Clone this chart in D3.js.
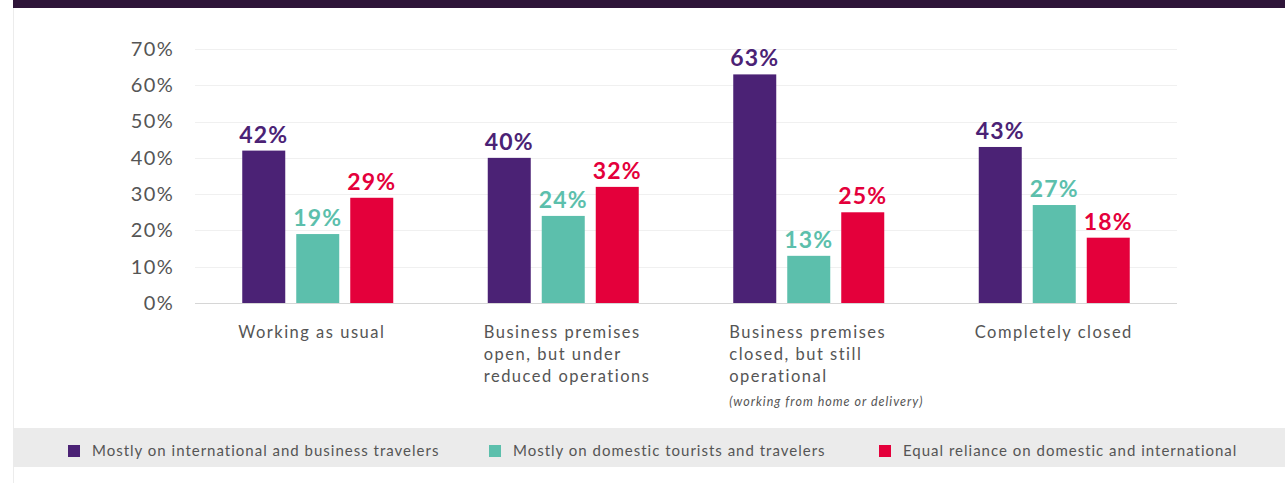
<!DOCTYPE html>
<html><head><meta charset="utf-8">
<script src="https://cdn.jsdelivr.net/npm/d3@7"></script>
<style>
html,body{margin:0;padding:0;background:#fff;}
svg{display:block;}
</style></head>
<body>
<svg id="chart" width="1285" height="483"></svg>
<script>
const categories = [
  ["Working as usual"],
  ["Business premises", "open, but under", "reduced operations"],
  ["Business premises", "closed, but still", "operational"],
  ["Completely closed"]
];
const categoryNotes = ["", "", "(working from home or delivery)", ""];
const seriesNames = [
  "Mostly on international and business travelers",
  "Mostly on domestic tourists and travelers",
  "Equal reliance on domestic and international"
];
const seriesColors = ["#4b2275", "#5cbfac", "#e4003b"];
const internationalValues = [42, 40, 63, 43];
const domesticValues = [19, 24, 13, 27];
const equalValues = [29, 32, 25, 18];
const yTicks = [0, 10, 20, 30, 40, 50, 60, 70];

const series = [internationalValues, domesticValues, equalValues];
const font = "Lato, 'Open Sans', sans-serif";
const svg = d3.select("#chart");

// frame
svg.append("rect").attr("x", 13).attr("y", 0).attr("width", 1272).attr("height", 8).attr("fill", "#2e1539");
svg.append("line").attr("x1", 13.5).attr("x2", 13.5).attr("y1", 8).attr("y2", 483).attr("stroke", "#ececec");

const x0 = d3.scaleBand().domain(d3.range(categories.length)).range([195, 1177]).paddingInner(0).paddingOuter(0);
const barW = 43, barGap = 11;
const groupW = barW * 3 + barGap * 2;
const x1 = d3.scaleBand().domain(d3.range(3)).range([0, groupW]).paddingInner(barGap / (barW + barGap));
const y = d3.scaleLinear().domain([0, 70]).range([303, 49]);

// gridlines
svg.append("g").selectAll("line").data(yTicks.filter(d => d > 0)).join("line")
  .attr("x1", 195).attr("x2", 1177)
  .attr("y1", d => Math.round(y(d)) + 0.5).attr("y2", d => Math.round(y(d)) + 0.5)
  .attr("stroke", "#f0f0f0").attr("stroke-width", 1);

// y axis labels
const yAxis = d3.axisLeft(y).tickValues(yTicks).tickFormat(d => d + "%").tickSize(0).tickPadding(0);
const ya = svg.append("g").attr("transform", "translate(174,0)").call(yAxis);
ya.select(".domain").remove();
ya.selectAll("text").attr("font-family", font).attr("font-size", 20).attr("letter-spacing", 1.3).attr("fill", "#555");

// bars
const groups = svg.append("g").selectAll("g").data(categories.map((c, i) => i)).join("g")
  .attr("transform", i => `translate(${x0(i) + (x0.bandwidth() - groupW) / 2},0)`);

groups.selectAll("rect").data(i => series.map((s, k) => ({k, v: s[i]}))).join("rect")
  .attr("x", d => x1(d.k)).attr("width", x1.bandwidth())
  .attr("y", d => y(d.v)).attr("height", d => y(0) - y(d.v))
  .attr("fill", d => seriesColors[d.k]);

groups.selectAll("text.val").data(i => series.map((s, k) => ({k, v: s[i]}))).join("text")
  .attr("class", "val")
  .attr("x", d => x1(d.k) + x1.bandwidth() / 2).attr("y", d => y(d.v) - 8)
  .attr("text-anchor", "middle").attr("font-family", font).attr("font-weight", 700)
  .attr("font-size", 23).attr("letter-spacing", 1.2).attr("fill", d => seriesColors[d.k])
  .text(d => d.v + "%");

// baseline
svg.append("line").attr("x1", 195).attr("x2", 1177).attr("y1", 303.5).attr("y2", 303.5).attr("stroke", "#d6d6d6");

// category labels
groups.each(function(i) {
  const g = d3.select(this);
  const t = g.append("text").attr("font-family", font).attr("font-size", 16.5)
    .attr("letter-spacing", 1.5).attr("fill", "#555");
  categories[i].forEach((line, j) => {
    t.append("tspan").attr("x", -4).attr("y", 338 + j * 22).text(line);
  });
  if (categoryNotes[i]) {
    g.append("text").attr("x", -4).attr("y", 406).attr("font-family", font)
      .attr("font-style", "italic").attr("font-size", 12.5).attr("letter-spacing", 1)
      .attr("fill", "#555").text(categoryNotes[i]);
  }
});

// legend
svg.append("rect").attr("x", 13).attr("y", 428).attr("width", 1272).attr("height", 39).attr("fill", "#ebebeb");
const legendX = [68, 489, 879];
const lg = svg.append("g").selectAll("g").data(seriesNames).join("g")
  .attr("transform", (d, i) => `translate(${legendX[i]},445)`);
lg.append("rect").attr("width", 12).attr("height", 12).attr("fill", (d, i) => seriesColors[i]);
lg.append("text").attr("x", 24).attr("y", 11).attr("font-family", font).attr("font-size", 15)
  .attr("letter-spacing", 1).attr("fill", "#555").text(d => d);
</script>
</body></html>
